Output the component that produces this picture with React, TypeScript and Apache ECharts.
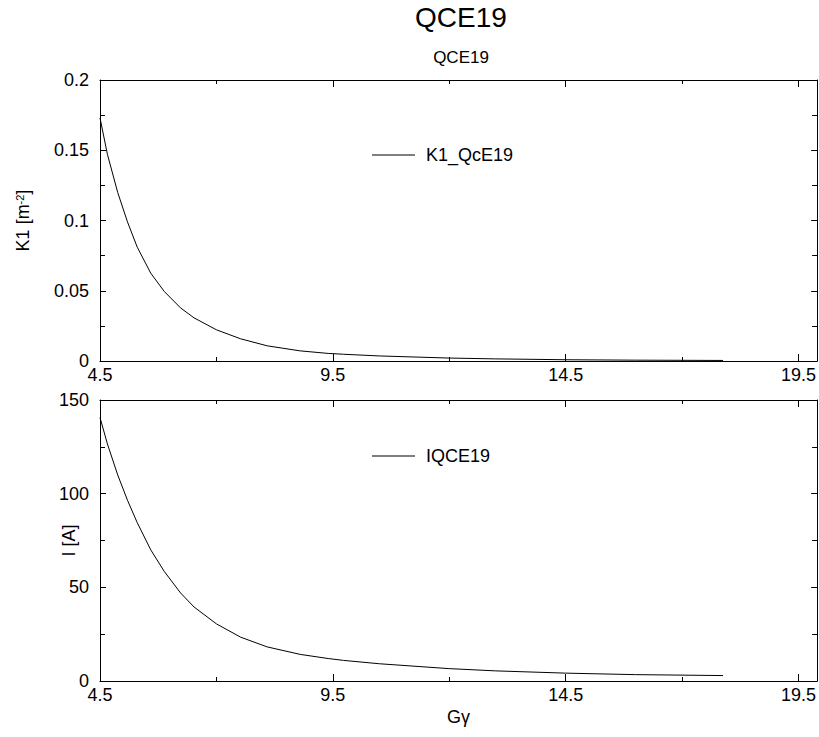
import React, { useEffect, useRef } from "react";
import * as echarts from "echarts";

const gamma = [4.5, 4.66, 4.88, 5.09, 5.3, 5.59, 5.88, 6.23, 6.52, 7.0, 7.52, 8.09, 8.8, 9.4, 9.73, 10.5, 12, 13, 14.5, 16, 17.88];
const k1Values = [0.173, 0.147, 0.12, 0.099, 0.081, 0.0625, 0.0495, 0.0378, 0.0307, 0.0222, 0.0158, 0.0108, 0.0072, 0.0054, 0.0048, 0.0036, 0.0021, 0.0015, 0.0009, 0.0006, 0.0004];
const currentValues = [140.6, 126.5, 110, 96.5, 84.5, 70, 58.5, 47, 39.5, 30.5, 23.4, 18.2, 14.2, 12.0, 11.0, 9.2, 6.6, 5.4, 4.2, 3.4, 2.9];

const xMajorTicks = [4.5, 9.5, 14.5, 19.5];
const xMinorTicks = [7, 12, 17];

const FONT = "'Liberation Sans', Arial, Helvetica, sans-serif";
const BLACK = "#000";
const LABEL_SIZE = 18;

function xAxes(gridIndex: number, withName: boolean) {
  const base = {
    type: "value",
    gridIndex,
    min: 4.5,
    max: 19.9,
    splitLine: { show: false },
  };
  return [
    {
      ...base,
      position: "bottom",
      axisLine: { show: true, lineStyle: { color: BLACK, width: 1 } },
      axisTick: { show: true, inside: true, length: 7, customValues: xMajorTicks, lineStyle: { color: BLACK } },
      axisLabel: { show: true, customValues: xMajorTicks, fontSize: LABEL_SIZE, color: BLACK, fontFamily: FONT, margin: 5 },
      name: withName ? "Gγ" : "",
      nameLocation: "middle",
      nameGap: 27,
      nameMoveOverlap: false,
      nameTextStyle: { fontSize: LABEL_SIZE, color: BLACK, fontFamily: FONT },
    },
    {
      ...base,
      position: "bottom",
      axisLine: { show: false },
      axisTick: { show: true, inside: true, length: 4, customValues: xMinorTicks, lineStyle: { color: BLACK } },
      axisLabel: { show: false },
    },
    {
      ...base,
      position: "top",
      axisLine: { show: true, lineStyle: { color: BLACK, width: 1 } },
      axisTick: { show: true, inside: true, length: 7, customValues: xMajorTicks, lineStyle: { color: BLACK } },
      axisLabel: { show: false },
    },
    {
      ...base,
      position: "top",
      axisLine: { show: false },
      axisTick: { show: true, inside: true, length: 4, customValues: xMinorTicks, lineStyle: { color: BLACK } },
      axisLabel: { show: false },
    },
  ];
}

function yAxes(gridIndex: number, max: number, interval: number, name: string, nameGap: number) {
  const base = {
    type: "value",
    gridIndex,
    min: 0,
    max,
    interval,
    splitLine: { show: false },
    axisLine: { show: true, lineStyle: { color: BLACK, width: 1 } },
    axisTick: { show: true, inside: true, length: 6, lineStyle: { color: BLACK } },
    minorTick: { show: true, splitNumber: 2, length: 5, lineStyle: { color: BLACK } },
  };
  return [
    {
      ...base,
      position: "left",
      axisLabel: { show: true, fontSize: LABEL_SIZE, color: BLACK, fontFamily: FONT, margin: 11 },
      name,
      nameLocation: "middle",
      nameGap,
      nameMoveOverlap: false,
      nameTextStyle: {
        fontSize: LABEL_SIZE,
        color: BLACK,
        fontFamily: FONT,
        rich: {
          sup: { fontSize: 11, lineHeight: 11, verticalAlign: "top", color: BLACK, fontFamily: FONT },
        },
      },
    },
    {
      ...base,
      position: "right",
      axisLabel: { show: false },
    },
  ];
}

export default function App() {
  const ref = useRef<HTMLDivElement>(null);

  useEffect(() => {
    if (!ref.current) return;
    const chart = echarts.init(ref.current, null, { renderer: "svg" });
    const k1Data = gamma.map((g, i) => [g, k1Values[i]]);
    const iData = gamma.map((g, i) => [g, currentValues[i]]);

    chart.setOption({
      animation: false,
      backgroundColor: "#fff",
      textStyle: { fontFamily: FONT },
      title: [
        {
          text: "QCE19",
          left: 461,
          top: 3,
          padding: 0,
          textAlign: "center",
          textStyle: { fontSize: 28, fontWeight: "normal", color: BLACK, fontFamily: FONT },
        },
        {
          text: "QCE19",
          left: 461,
          top: 49,
          padding: 0,
          textAlign: "center",
          textStyle: { fontSize: 17, fontWeight: "normal", color: BLACK, fontFamily: FONT },
        },
      ],
      legend: [
        {
          data: ["K1_QcE19"],
          left: 372,
          top: 146,
          padding: 0,
          icon: "rect",
          itemWidth: 43,
          itemHeight: 1,
          selectedMode: false,
          textStyle: { fontSize: LABEL_SIZE, color: BLACK, fontFamily: FONT, padding: [0, 0, 0, 6] },
        },
        {
          data: ["IQCE19"],
          left: 372,
          top: 447,
          padding: 0,
          icon: "rect",
          itemWidth: 43,
          itemHeight: 1,
          selectedMode: false,
          textStyle: { fontSize: LABEL_SIZE, color: BLACK, fontFamily: FONT, padding: [0, 0, 0, 6] },
        },
      ],
      grid: [
        { left: 100, top: 80, width: 720, height: 281, containLabel: false },
        { left: 100, top: 400, width: 720, height: 281, containLabel: false },
      ],
      xAxis: [...xAxes(0, false), ...xAxes(1, true)],
      yAxis: [
        ...yAxes(0, 0.2, 0.05, "K1 [m{sup|-2}]", 68),
        ...yAxes(1, 150, 50, "I [A]", 22),
      ],
      series: [
        {
          type: "line",
          name: "K1_QcE19",
          xAxisIndex: 0,
          yAxisIndex: 0,
          data: k1Data,
          symbol: "none",
          showSymbol: false,
          smooth: false,
          lineStyle: { color: BLACK, width: 1 },
          itemStyle: { color: BLACK },
        },
        {
          type: "line",
          name: "IQCE19",
          xAxisIndex: 4,
          yAxisIndex: 2,
          data: iData,
          symbol: "none",
          showSymbol: false,
          smooth: false,
          lineStyle: { color: BLACK, width: 1 },
          itemStyle: { color: BLACK },
        },
      ],
    });

    return () => chart.dispose();
  }, []);

  return (
    <div
      ref={ref}
      style={{ position: "absolute", left: 0, top: 0, width: 819, height: 737, background: "#fff" }}
    />
  );
}
